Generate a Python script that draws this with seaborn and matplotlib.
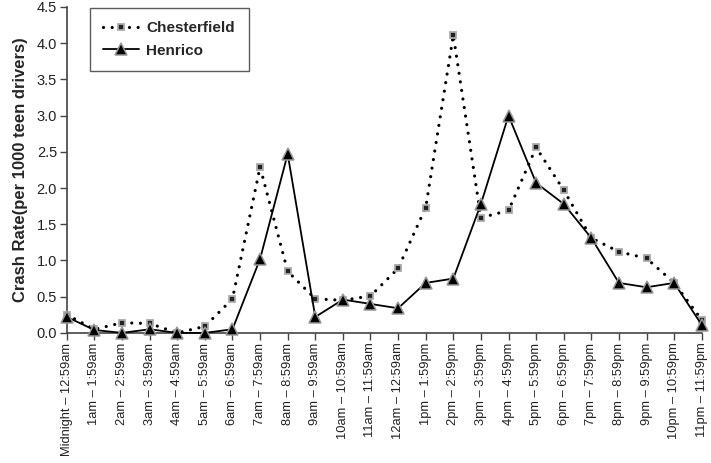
import numpy as np
import pandas as pd
import matplotlib
matplotlib.use("Agg")
import matplotlib.pyplot as plt
import seaborn as sns
from matplotlib.lines import Line2D

# Hour-of-day categories
hours = [
    "Midnight – 12:59am", "1am – 1:59am", "2am – 2:59am", "3am – 3:59am",
    "4am – 4:59am", "5am – 5:59am", "6am – 6:59am", "7am – 7:59am",
    "8am – 8:59am", "9am – 9:59am", "10am – 10:59am", "11am – 11:59am",
    "12am – 12:59am", "1pm – 1:59pm", "2pm – 2:59pm", "3pm – 3:59pm",
    "4pm – 4:59pm", "5pm – 5:59pm", "6pm – 6:59pm", "7pm – 7:59pm",
    "8pm – 8:59pm", "9pm – 9:59pm", "10pm – 10:59pm", "11pm – 11:59pm",
]

# Crash rate per 1000 teen drivers
chesterfield = [0.25, 0.05, 0.14, 0.13, 0.00, 0.09, 0.47, 2.29, 0.85, 0.47, 0.45, 0.51,
                0.89, 1.73, 4.11, 1.59, 1.69, 2.56, 1.97, 1.31, 1.12, 1.03, 0.69, 0.18]
henrico = [0.22, 0.04, 0.00, 0.05, 0.00, 0.00, 0.05, 1.02, 2.47, 0.22, 0.46, 0.40,
           0.34, 0.69, 0.75, 1.78, 3.00, 2.07, 1.78, 1.31, 0.69, 0.63, 0.69, 0.11]

sns.set_style("white")
plt.rcParams['font.family'] = ['Liberation Sans', 'DejaVu Sans']

df = pd.DataFrame({"hour": np.arange(len(hours)),
                   "Chesterfield": chesterfield,
                   "Henrico": henrico})

fig = plt.figure(figsize=(7.11, 4.63), dpi=100)
ax = fig.add_axes([0.094, 0.281, 0.893, 0.704])

dot_style = dict(linestyle=(0, (0.01, 2.7)), dash_capstyle='round', linewidth=2.3, color='black')
sq_marker = dict(marker='s', markersize=5, markerfacecolor='#222222',
                 markeredgecolor='#aaaaaa', markeredgewidth=1.3)
solid_style = dict(linestyle='-', linewidth=1.3, color='black')
tri_marker = dict(marker='^', markersize=8, markerfacecolor='black',
                  markeredgecolor='#999999', markeredgewidth=1.1)

sns.lineplot(data=df, x="hour", y="Chesterfield", ax=ax, clip_on=False, zorder=3,
             **dot_style, **sq_marker)
sns.lineplot(data=df, x="hour", y="Henrico", ax=ax, clip_on=False, zorder=4,
             **solid_style, **tri_marker)

ax.set_xlim(0, len(hours) - 1)
ax.set_ylim(0, 4.5)
ax.set_yticks(np.arange(0, 4.51, 0.5))
ax.set_yticklabels([f"{v:.1f}" for v in np.arange(0, 4.51, 0.5)], fontsize=10.5)
ax.set_xticks(df["hour"])
ax.set_xticklabels(hours, rotation=90, fontsize=9.3)
ax.set_xlabel("")
ax.set_ylabel("Crash Rate(per 1000 teen drivers)", fontsize=12, fontweight='bold', labelpad=6)

for side in ['top', 'right']:
    ax.spines[side].set_visible(False)
for side in ['left', 'bottom']:
    ax.spines[side].set_color('#444444')
    ax.spines[side].set_linewidth(1.2)
ax.tick_params(axis='both', direction='out', length=5, width=1, color='#444444',
               labelcolor='#222222', pad=2, left=True, bottom=True)

handles = [Line2D([], [], **dot_style, **sq_marker),
           Line2D([], [], **solid_style, **tri_marker)]
leg = ax.legend(handles, ["Chesterfield", "Henrico"], loc='upper left',
                bbox_to_anchor=(0.036, 0.998), borderaxespad=0, frameon=True, fancybox=False,
                handlelength=2.3, borderpad=0.9, labelspacing=0.55, handletextpad=0.5,
                prop={'weight': 'bold', 'size': 11})
leg.get_frame().set_edgecolor('#333333')
leg.get_frame().set_linewidth(1.0)

fig.savefig("out.png", dpi=100)
